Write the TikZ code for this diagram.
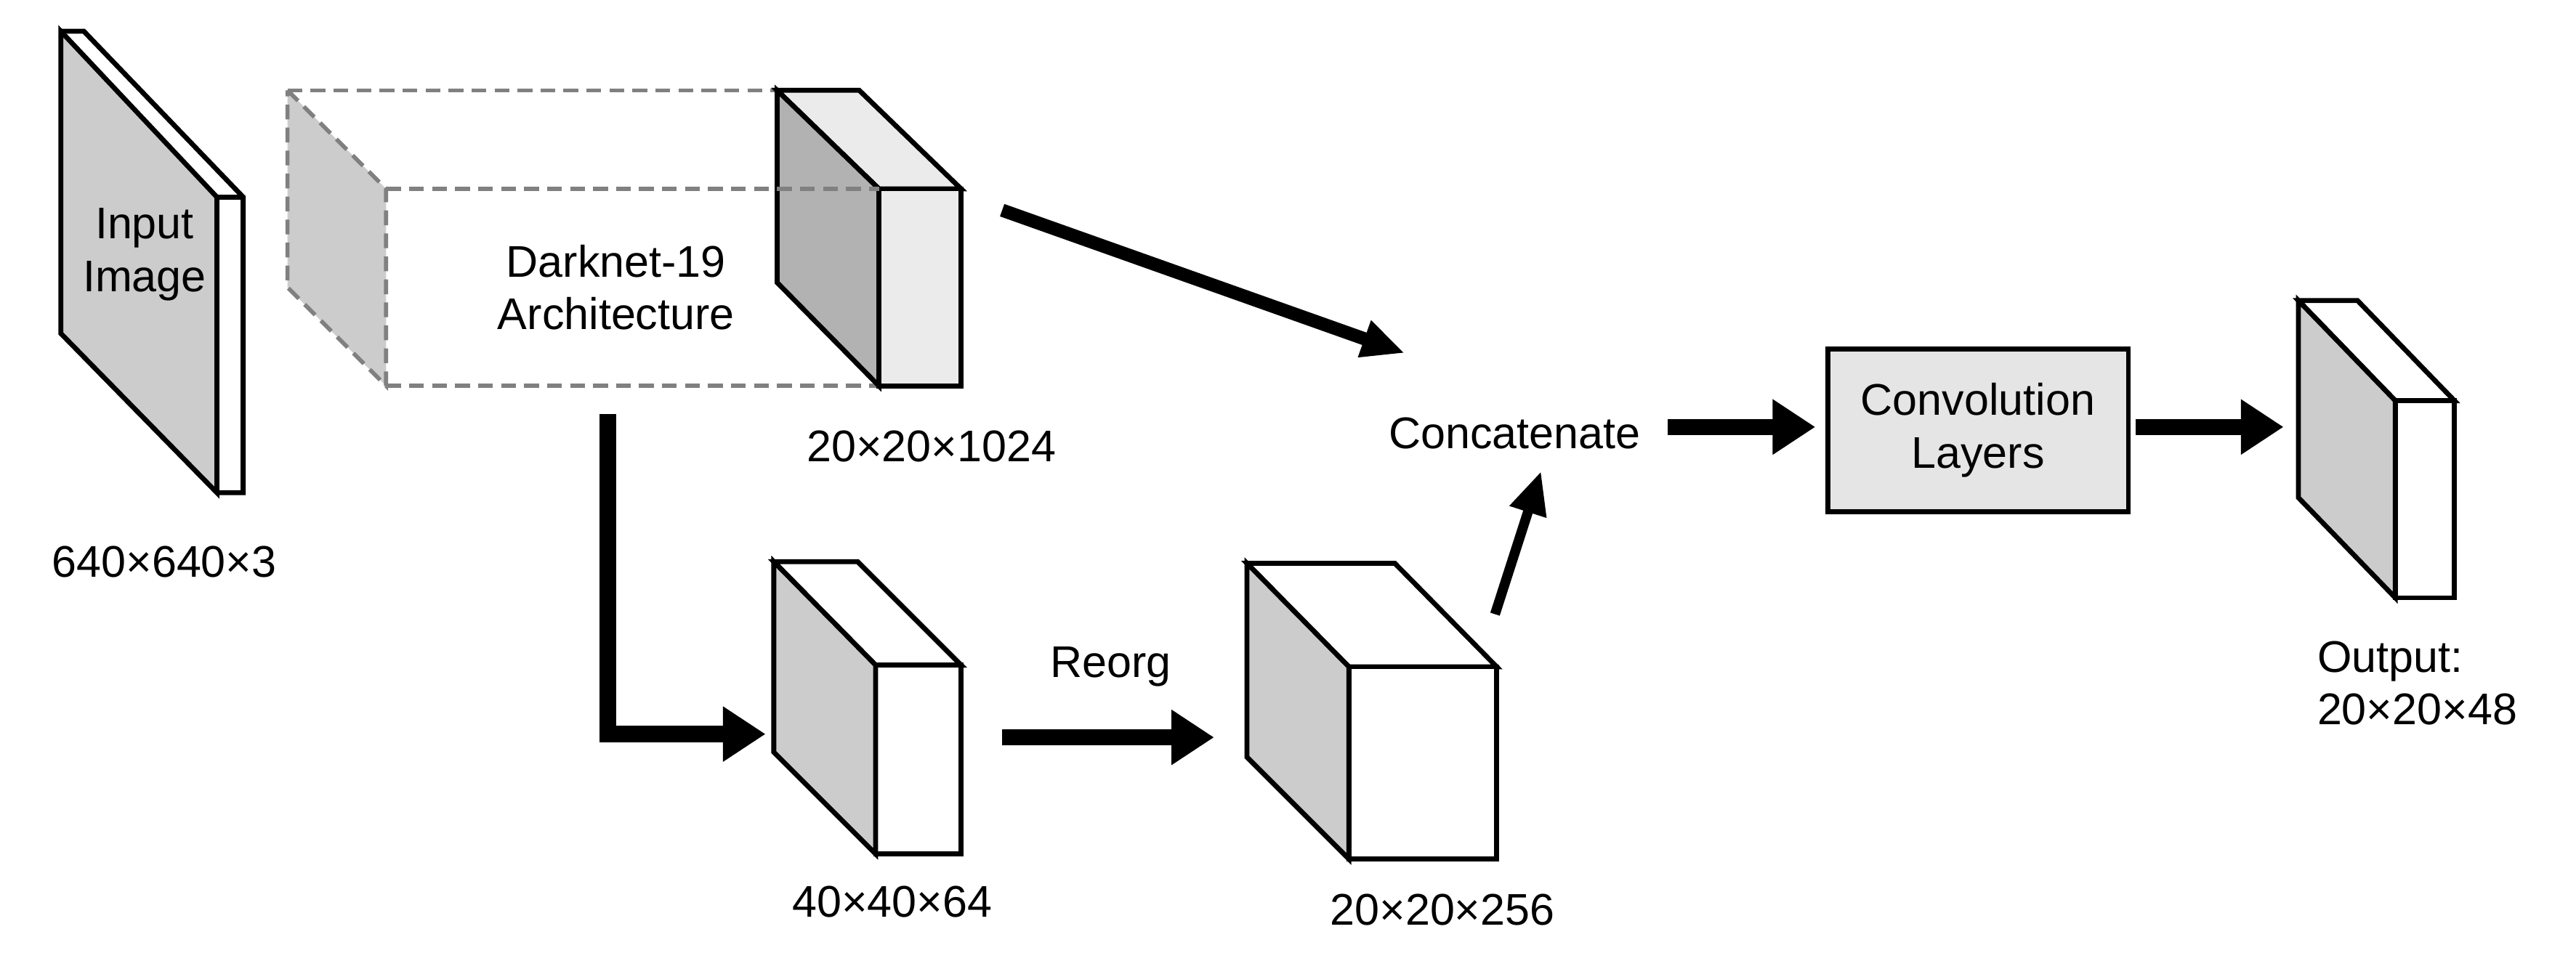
\documentclass[tikz,border=0pt]{standalone}
\usepackage{fontspec}
\setmainfont{Liberation Sans}
\usetikzlibrary{arrows.meta}
\begin{document}
\begin{tikzpicture}[x=1pt,y=-1pt,
  edge/.style={line width=3pt,line join=miter},
  lbl/.style={font=\fontsize{27}{32}\selectfont,align=center},
  fat/.style={line width=10pt,-{Triangle[length=26pt,width=32pt]}},
  thin/.style={line width=6pt,-{Triangle[length=26pt,width=22pt]}}]
\useasboundingbox (0,0) rectangle (1568,585);
% input image
\fill[white] (37,19) -- (51,19) -- (148,120) -- (148,300) -- (132,300) -- (132,120) -- cycle;
\filldraw[edge,fill=black!20] (37,19) -- (132,120) -- (132,300) -- (37,203) -- cycle;
\draw[edge] (37,19) -- (51,19) -- (148,120) -- (148,300) -- (132,300);
\draw[edge] (132,120) -- (148,120);
\node[lbl] (in) at (88,155) {Input\\Image};
\node[lbl] (inl) at (100,342) {640×640×3};
% dashed darknet
\fill[black!20] (175,55) -- (235,115) -- (235,235) -- (175,175) -- cycle;
\draw[line width=2.5pt,gray,dashed,dash pattern=on 9pt off 5pt] (175,55) -- (235,115) -- (235,235) -- (175,175) -- cycle;
\draw[line width=2.5pt,gray,dash pattern=on 9pt off 5pt] (175,55) -- (473,55) (235,115) -- (535,115) (235,235) -- (535,235);
% cube 1024
\filldraw[edge,fill=black!8] (473,55) -- (523,55) -- (585,115) -- (535,115) -- cycle;
\filldraw[edge,fill=black!8] (535,115) rectangle (585,235);
\filldraw[edge,fill=black!30] (473,55) -- (535,115) -- (535,235) -- (473,172) -- cycle;
\draw[line width=2.5pt,gray,dash pattern=on 9pt off 5pt] (473,115) -- (535,115);
\node[lbl] (dk) at (375,175) {Darknet-19\\Architecture};
\node[lbl] (c1l) at (567,272) {20×20×1024};
\coordinate (c1) at (610,128);
% cube 64
\filldraw[edge,fill=white] (471,342) -- (522,342) -- (585,405) -- (533,405) -- cycle;
\filldraw[edge,fill=white] (533,405) rectangle (585,520);
\filldraw[edge,fill=black!20] (471,342) -- (533,405) -- (533,520) -- (471,458) -- cycle;
\node[lbl] (c2l) at (543,549) {40×40×64};
\coordinate (c2in) at (466,447);
\coordinate (dkout) at (370,252);
% cube 256
\filldraw[edge,fill=white] (759,343) -- (849,343) -- (911,406) -- (821,406) -- cycle;
\filldraw[edge,fill=white] (821,406) rectangle (911,523);
\filldraw[edge,fill=black!20] (759,343) -- (821,406) -- (821,523) -- (759,461) -- cycle;
\node[lbl] (c3l) at (878,554) {20×20×256};
\node[lbl] (reorg) at (676,406) {Reorg};
% concat / conv
\node[lbl] (cat) at (922,264) {Concatenate};
\node[lbl,draw,line width=3pt,fill=black!10,minimum width=183pt,minimum height=99pt,anchor=north west] (conv) at (1111,211) {Convolution\\Layers};
% output
\filldraw[edge,fill=white] (1399,183) -- (1435,183) -- (1494,244) -- (1458,244) -- cycle;
\filldraw[edge,fill=white] (1458,244) rectangle (1494,364);
\filldraw[edge,fill=black!20] (1399,183) -- (1458,244) -- (1458,364) -- (1399,303) -- cycle;
\node[lbl,align=left,anchor=west] (outl) at (1407,416) {Output:\\20×20×48};
% arrows
\draw[thin,line width=8pt] (c1) -- (855,215);
\draw[fat,line join=miter] (dkout) -- (370,447) -- (c2in);
\draw[fat] (610,449) -- (739,449);
\draw[thin] (910,374) -- (938,287);
\draw[fat] (1015,260) -- (1105,260);
\draw[fat] (1300,260) -- (1390,260);
\end{tikzpicture}
\end{document}
